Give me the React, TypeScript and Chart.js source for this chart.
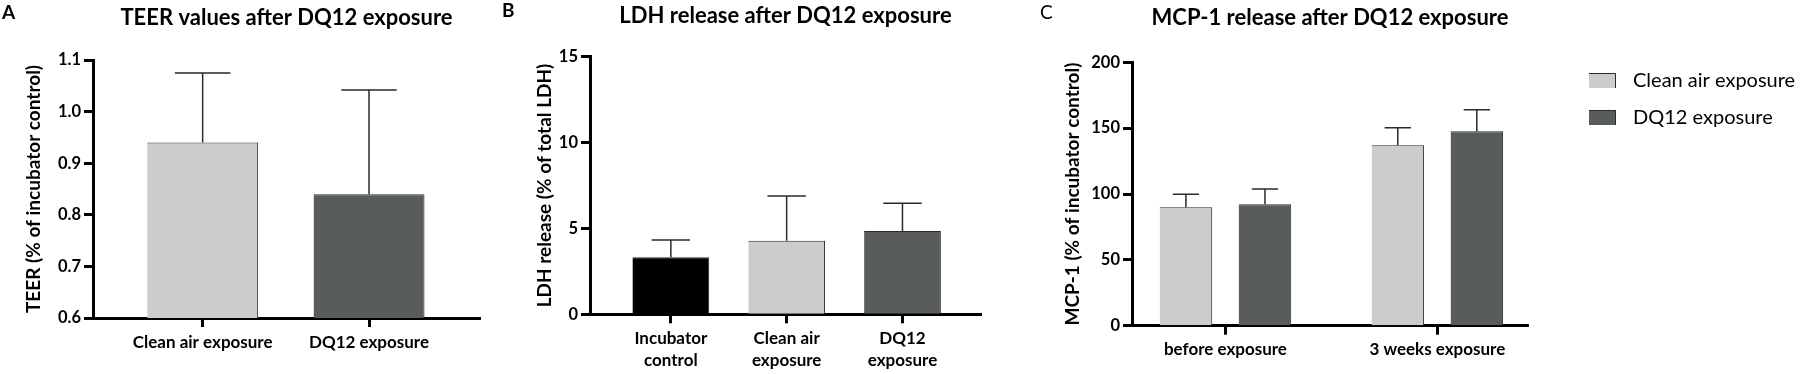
import React, { useEffect, useRef } from 'react';
import { Chart, registerables } from 'chart.js';

Chart.register(...registerables);

const FONT = 'Lato, "Open Sans", sans-serif';

// ---------- Panel A: TEER ----------
const teerCategories = ['Clean air exposure', 'DQ12 exposure'];
const teerMeans = [0.94, 0.84];
const teerSD = [0.135, 0.202];
const teerTicks = [0.6, 0.7, 0.8, 0.9, 1.0, 1.1];

// ---------- Panel B: LDH ----------
const ldhCategories = [['Incubator', 'control'], ['Clean air', 'exposure'], ['DQ12', 'exposure']];
const ldhMeans = [3.32, 4.29, 4.85];
const ldhSD = [1.01, 2.6, 1.61];
const ldhTicks = [0, 5, 10, 15];

// ---------- Panel C: MCP-1 ----------
const mcpCategories = ['before exposure', '3 weeks exposure'];
const seriesNames = ['Clean air exposure', 'DQ12 exposure'];
const mcpClean = [89.9, 137];
const mcpCleanSD = [9.9, 13.3];
const mcpDQ12 = [92.2, 147.6];
const mcpDQ12SD = [11.6, 16.4];
const mcpTicks = [0, 50, 100, 150, 200];

const LIGHT = '#cbcccb';
const DARK = '#585c5c';
const BLACK = '#000000';
const EDGE = '#2a2a2a';

const errorBarPlugin = {
  id: 'errorBars',
  afterDatasetsDraw(chart: any) {
    const ctx = chart.ctx;
    const yScale = chart.scales.y;
    chart.data.datasets.forEach((ds: any, di: number) => {
      const errs = ds.errors;
      if (!errs) return;
      const meta = chart.getDatasetMeta(di);
      meta.data.forEach((bar: any, i: number) => {
        const v = ds.data[i].y;
        const top = yScale.getPixelForValue(v + errs[i]);
        const { x, y, width } = bar.getProps(['x', 'y', 'width'], true);
        ctx.save();
        ctx.strokeStyle = EDGE;
        ctx.lineWidth = 1.5;
        ctx.beginPath();
        ctx.moveTo(x, y);
        ctx.lineTo(x, top);
        ctx.moveTo(x - width / 4, top);
        ctx.lineTo(x + width / 4, top);
        ctx.stroke();
        ctx.restore();
      });
    });
  },
};

function letterPlugin(letter: string, x: number, y: number, bold: boolean) {
  return {
    id: 'panelLetter',
    afterDraw(chart: any) {
      const ctx = chart.ctx;
      ctx.save();
      ctx.font = `${bold ? 'bold ' : ''}19px ${FONT}`;
      ctx.fillStyle = '#000';
      ctx.textAlign = 'left';
      ctx.textBaseline = 'middle';
      ctx.fillText(letter, x, y);
      ctx.restore();
    },
  };
}

const sideLegendPlugin = {
  id: 'sideLegend',
  afterDraw(chart: any) {
    const ctx = chart.ctx;
    const x0 = chart.chartArea.right + 61;
    chart.data.datasets.forEach((ds: any, i: number) => {
      const y = 73 + i * 37;
      ctx.save();
      ctx.fillStyle = ds.backgroundColor;
      ctx.fillRect(x0, y, 27, 15);
      ctx.strokeStyle = EDGE;
      ctx.lineWidth = 1;
      ctx.beginPath();
      ctx.moveTo(x0, y + 0.5);
      ctx.lineTo(x0 + 26.5, y + 0.5);
      ctx.lineTo(x0 + 26.5, y + 15);
      ctx.stroke();
      ctx.fillStyle = '#000';
      ctx.font = `20px ${FONT}`;
      ctx.textAlign = 'left';
      ctx.textBaseline = 'middle';
      ctx.fillText(ds.label, x0 + 44, y + 7.5);
      ctx.restore();
    });
  },
};

function yAxis(ticks: number[], title: string, titlePad: number, width: number, decimals: number) {
  return {
    type: 'linear',
    position: 'left',
    min: ticks[0],
    max: ticks[ticks.length - 1],
    afterBuildTicks: (axis: any) => {
      axis.ticks = ticks.map((v) => ({ value: v }));
    },
    afterFit: (axis: any) => {
      axis.width = width;
    },
    grid: { display: true, drawOnChartArea: false, drawTicks: true, tickLength: 9, tickWidth: 3, tickColor: '#000' },
    border: { display: true, color: '#000', width: 3 },
    ticks: {
      color: '#000',
      padding: 3,
      font: { family: FONT, size: 16.5, weight: 'bold' },
      callback: (v: number) => v.toFixed(decimals),
    },
    title: {
      display: true,
      text: title,
      color: '#000',
      font: { family: FONT, size: 19, weight: 'bold', lineHeight: 1.2 },
      padding: { top: titlePad, bottom: 0 },
    },
  };
}

function xAxis(labels: any[], min: number, max: number, height: number) {
  return {
    type: 'linear',
    position: 'bottom',
    min,
    max,
    offset: false,
    afterBuildTicks: (axis: any) => {
      axis.ticks = labels.map((_, i) => ({ value: i }));
    },
    afterFit: (axis: any) => {
      axis.height = height;
    },
    grid: { display: true, offset: false, drawOnChartArea: false, drawTicks: true, tickLength: 9, tickWidth: 3, tickColor: '#000' },
    border: { display: true, color: '#000', width: 3 },
    ticks: {
      autoSkip: false,
      maxRotation: 0,
      minRotation: 0,
      color: '#000',
      padding: 4,
      font: { family: FONT, size: 17, weight: 'bold', lineHeight: 1.32 },
      callback: (_v: number, i: number) => labels[i],
    },
  };
}

function titleOpt(text: string, top: number, bottom: number) {
  return {
    display: true,
    text,
    fullSize: false,
    color: '#000',
    font: { family: FONT, size: 22, weight: 'bold', lineHeight: 1.2 },
    padding: { top, bottom },
  };
}

const topBorder = { top: 1, right: 1, left: 0, bottom: 0 };

function configA(): any {
  return {
    type: 'bar',
    data: {
      datasets: [
        {
          label: 'TEER',
          data: teerMeans.map((v, i) => ({ x: i, y: v })),
          errors: teerSD,
          backgroundColor: [LIGHT, DARK],
          borderColor: EDGE,
          borderWidth: topBorder,
          borderSkipped: false,
          categoryPercentage: 1,
          barPercentage: 0.667,
        },
      ],
    },
    options: {
      animation: false,
      responsive: false,
      layout: { padding: { left: 0, right: 20, top: 0, bottom: 0 } },
      plugins: {
        legend: { display: false },
        tooltip: { enabled: false },
        title: titleOpt('TEER values after DQ12 exposure', 4.3, 29.3),
      },
      scales: {
        x: xAxis(teerCategories, -0.659, 1.667, 56),
        y: yAxis(teerTicks, 'TEER (% of incubator control)', 22.6, 93, 1),
      },
    },
    plugins: [errorBarPlugin, letterPlugin('A', 2, 13, true)],
  };
}

function configB(): any {
  return {
    type: 'bar',
    data: {
      datasets: [
        {
          label: 'LDH',
          data: ldhMeans.map((v, i) => ({ x: i, y: v })),
          errors: ldhSD,
          backgroundColor: [BLACK, LIGHT, DARK],
          borderColor: EDGE,
          borderWidth: topBorder,
          borderSkipped: false,
          categoryPercentage: 1,
          barPercentage: 0.663,
        },
      ],
    },
    options: {
      animation: false,
      responsive: false,
      layout: { padding: { left: 0, right: 19, top: 0, bottom: 0 } },
      plugins: {
        legend: { display: false },
        tooltip: { enabled: false },
        title: titleOpt('LDH release after DQ12 exposure', 2.8, 27.5),
      },
      scales: {
        x: xAxis(ldhCategories, -0.698, 2.678, 59.7),
        y: yAxis(ldhTicks, 'LDH release (% of total LDH)', 33, 90, 0),
      },
    },
    plugins: [errorBarPlugin, letterPlugin('B', 2, 11, true)],
  };
}

function configC(): any {
  return {
    type: 'bar',
    data: {
      datasets: [
        {
          label: seriesNames[0],
          data: mcpClean.map((v, i) => ({ x: i, y: v })),
          errors: mcpCleanSD,
          backgroundColor: LIGHT,
          borderColor: EDGE,
          borderWidth: topBorder,
          borderSkipped: false,
          categoryPercentage: 0.746,
          barPercentage: 0.665,
        },
        {
          label: seriesNames[1],
          data: mcpDQ12.map((v, i) => ({ x: i, y: v })),
          errors: mcpDQ12SD,
          backgroundColor: DARK,
          borderColor: EDGE,
          borderWidth: topBorder,
          borderSkipped: false,
          categoryPercentage: 0.746,
          barPercentage: 0.665,
        },
      ],
    },
    options: {
      animation: false,
      responsive: false,
      layout: { padding: { left: 0, right: 272, top: 0, bottom: 0 } },
      plugins: {
        legend: { display: false },
        tooltip: { enabled: false },
        title: titleOpt('MCP-1 release after DQ12 exposure', 4.3, 31.6),
      },
      scales: {
        x: xAxis(mcpCategories, -0.441, 1.428, 48.3),
        y: yAxis(mcpTicks, 'MCP-1 (% of incubator control)', 61.2, 132, 0),
      },
    },
    plugins: [errorBarPlugin, sideLegendPlugin, letterPlugin('C', 40, 12.5, false)],
  };
}

function Panel({ left, width, make }: { left: number; width: number; make: () => any }) {
  const ref = useRef<HTMLCanvasElement | null>(null);
  useEffect(() => {
    if (!ref.current) return;
    const chart = new Chart(ref.current, make());
    return () => chart.destroy();
  }, []);
  return (
    <canvas
      ref={ref}
      width={width}
      height={374}
      style={{ position: 'absolute', left, top: 0, width, height: 374 }}
    />
  );
}

export default function App() {
  return (
    <div
      style={{
        position: 'fixed',
        left: 0,
        top: 0,
        width: 1800,
        height: 374,
        background: '#ffffff',
        overflow: 'hidden',
      }}
    >
      <Panel left={0} width={500} make={configA} />
      <Panel left={500} width={500} make={configB} />
      <Panel left={1000} width={800} make={configC} />
    </div>
  );
}
